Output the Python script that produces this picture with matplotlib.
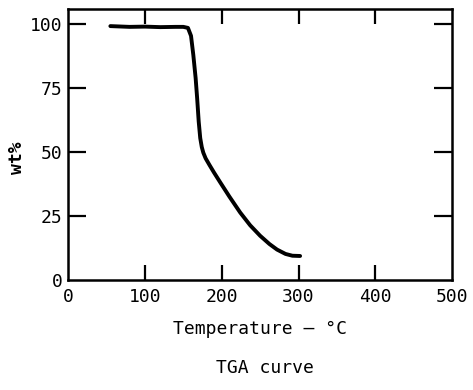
import matplotlib
matplotlib.use("Agg")
import matplotlib.pyplot as plt

# TGA curve data
temp = [55, 80, 100, 120, 140, 150, 156, 160, 163, 166, 168, 170, 172, 174, 176, 179,
        184, 190, 198, 210, 224, 237, 250, 262, 272, 283, 292, 302]
wt = [99.3, 99.0, 99.1, 98.9, 99.0, 99.0, 98.6, 95.5, 88, 79, 71, 62, 55.5, 52, 49.8, 47.6,
      45, 42, 38.2, 32.6, 26.4, 21.4, 17.3, 14.1, 11.9, 10.2, 9.5, 9.4]

x_ticks = [0, 100, 200, 300, 400, 500]
y_ticks = [0, 25, 50, 75, 100]

font = 'DejaVu Sans Mono'

fig = plt.figure(figsize=(4.73, 3.90), dpi=100)
ax = fig.add_axes([0.144, 0.282, 0.812, 0.695])

ax.plot(temp, wt, color='black', linewidth=2.8, solid_capstyle='round',
        solid_joinstyle='round')

ax.set_xlim(0, 500)
ax.set_ylim(0, 106)
ax.set_xticks(x_ticks)
ax.set_yticks(y_ticks)
ax.set_xticklabels([str(t) for t in x_ticks], fontfamily=font, fontsize=13)
ax.set_yticklabels([str(t) for t in y_ticks], fontfamily=font, fontsize=13)

ax.tick_params(axis='both', direction='in', width=1.6, color='black',
               top=True, right=True)
ax.tick_params(axis='y', which='major', length=13, pad=4)
ax.tick_params(axis='x', which='major', length=11, pad=6)

# no tick marks at the corners, only the labels
xt = ax.xaxis.get_major_ticks()
for t in (xt[0], xt[-1]):
    t.tick1line.set_visible(False)
    t.tick2line.set_visible(False)
yt = ax.yaxis.get_major_ticks()
yt[0].tick1line.set_visible(False)
yt[0].tick2line.set_visible(False)

for s in ax.spines.values():
    s.set_linewidth(1.8)

ax.set_xlabel('Temperature — °C', fontfamily=font, fontsize=13, labelpad=10)
ax.set_ylabel('wt%', fontfamily=font, fontsize=13, fontweight='bold')
ax.yaxis.set_label_coords(-0.11, 0.45)

fig.text(0.56, 0.057, 'TGA curve', fontfamily=font, fontsize=13,
         ha='center', va='center')

fig.savefig('out.png', dpi=100)
